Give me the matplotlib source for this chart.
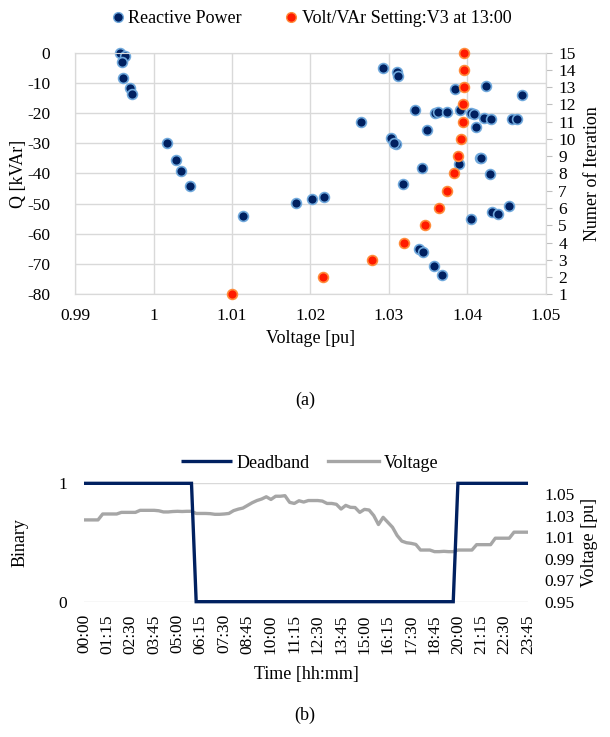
import matplotlib
matplotlib.use("Agg")
import matplotlib.pyplot as plt
from matplotlib.lines import Line2D
import numpy as np

plt.rcParams['font.family'] = ['Liberation Serif', 'DejaVu Serif']
plt.rcParams['axes.unicode_minus'] = False

# ---------------- data (a) ----------------
v_reactive = [0.99575, 0.99631, 0.99596, 0.99605, 0.99703, 0.99724, 1.00171, 1.00290,
              1.00350, 1.00469, 1.01133, 1.01819, 1.02014, 1.02167, 1.02926, 1.03109,
              1.03121, 1.03849, 1.04241, 1.04696, 1.03334, 1.02645, 1.03590, 1.03620,
              1.03738, 1.03913, 1.04041, 1.04088, 1.04207, 1.04296, 1.04569, 1.04629,
              1.04117, 1.03483, 1.03028, 1.03087, 1.03070, 1.04156, 1.04170, 1.03888,
              1.03419, 1.04284, 1.03185, 1.04526, 1.04318, 1.04395, 1.04041, 1.03390,
              1.03441, 1.03581, 1.03674]
q_reactive = [0, -1.1, -3.0, -8.3, -11.6, -13.8, -29.9, -35.6, -39.3, -44.1, -54.1, -49.8,
              -48.5, -47.8, -5.1, -6.4, -7.8, -11.9, -10.9, -14.1, -18.9, -22.9, -19.9,
              -19.7, -19.8, -18.9, -20.0, -20.3, -21.5, -22.1, -22.0, -22.0, -24.5, -25.6,
              -28.1, -30.1, -30.0, -34.8, -34.9, -37.0, -38.3, -40.2, -43.6, -50.8, -52.6,
              -53.3, -55.0, -65.1, -66.1, -70.6, -73.5]
v_setting = [1.01001, 1.02163, 1.02780, 1.03189, 1.03457, 1.03636, 1.03747, 1.03828,
             1.03884, 1.03917, 1.03939, 1.03948, 1.03955, 1.03955, 1.03955]
iteration = list(range(1, 16))
x_ticks_a = [0.99, 1.00, 1.01, 1.02, 1.03, 1.04, 1.05]
x_ticklabels_a = ['0.99', '1', '1.01', '1.02', '1.03', '1.04', '1.05']
q_ticks = [0, -10, -20, -30, -40, -50, -60, -70, -80]

# ---------------- data (b) ----------------
deadband = [1] * 24 + [0] * 56 + [1] * 16
voltage = [1.026, 1.026, 1.026, 1.026, 1.0315, 1.0315, 1.0315, 1.0315,
           1.033, 1.033, 1.033, 1.033, 1.0349, 1.0349, 1.0349, 1.0349,
           1.0345, 1.0334, 1.0334, 1.0338, 1.034, 1.0338, 1.034, 1.034,
           1.032, 1.032, 1.032, 1.0318, 1.0312, 1.0312, 1.0315, 1.032,
           1.0346, 1.036, 1.037, 1.0395, 1.042, 1.044, 1.0454, 1.0475,
           1.045, 1.048, 1.048, 1.0485, 1.0423, 1.0413, 1.0438, 1.0426,
           1.044, 1.044, 1.044, 1.0435, 1.0413, 1.0413, 1.0405, 1.0361,
           1.0395, 1.0377, 1.0375, 1.033, 1.0358, 1.0352, 1.030, 1.0217,
           1.0284, 1.0238, 1.0192, 1.0115, 1.0063, 1.0048, 1.0042, 1.0032,
           0.998, 0.998, 0.998, 0.9965, 0.9965, 0.9968, 0.9965, 0.9965,
           0.998, 0.998, 0.998, 0.998, 1.003, 1.003, 1.003, 1.003,
           1.009, 1.009, 1.009, 1.009, 1.0146, 1.0146, 1.0146, 1.0146]
times = ['%02d:%02d' % (m // 60, m % 60) for m in range(0, 24 * 60, 15)]
time_tick_step = 5
v_ticks_b = [0.95, 0.97, 0.99, 1.01, 1.03, 1.05]

NAVY = '#002060'
GRID = '#d9d9d9'
FS = 12.5
LFS = 13

fig = plt.figure(figsize=(6.10, 7.37), dpi=100)

# ---------------- chart (a) ----------------
ax = fig.add_axes([0.1234, 0.6007, 0.7712, 0.3278])
ax.set_xlim(0.99, 1.05)
ax.set_ylim(-80, 0)
ax.set_xticks(x_ticks_a)
ax.set_xticklabels(x_ticklabels_a)
ax.set_yticks(q_ticks)
ax.grid(True, color=GRID, linewidth=1.0)
ax.set_axisbelow(True)
for s in ax.spines.values():
    s.set_color(GRID)
ax.tick_params(axis='both', length=0, labelsize=FS)
ax.tick_params(axis='y', pad=18)
ax.tick_params(axis='x', pad=10)
ax.set_xlabel('Voltage [pu]', fontsize=LFS, labelpad=4)
ax.set_ylabel('Q [kVAr]', fontsize=LFS)
ax.yaxis.set_label_coords(-0.103, 0.5)
ax.scatter(v_reactive, q_reactive, s=50, c=NAVY, edgecolors='#6fa8dc',
           linewidths=1.2, zorder=3, clip_on=False)

ax2 = ax.twinx()
ax2.set_ylim(1, 15)
ax2.set_yticks(iteration)
for s in ax2.spines.values():
    s.set_color(GRID)
ax2.tick_params(axis='y', length=4, color='#bfbfbf', labelsize=FS, pad=5)
ax2.set_ylabel('Numer of Iteration', fontsize=LFS, labelpad=6)
ax2.scatter(v_setting, iteration, s=50, c='#ff1a00', edgecolors='#ff8c3a',
            linewidths=1.2, zorder=4, clip_on=False)

h1 = Line2D([], [], linestyle='none', marker='o', markersize=7,
            markerfacecolor=NAVY, markeredgecolor='#6fa8dc')
h2 = Line2D([], [], linestyle='none', marker='o', markersize=7,
            markerfacecolor='#ff1a00', markeredgecolor='#ff8c3a')
fig.legend([h1, h2], ['Reactive Power', 'Volt/VAr Setting:V3 at 13:00'],
           loc='center', bbox_to_anchor=(0.508, 0.975), ncol=2, frameon=False,
           fontsize=LFS, handletextpad=0.1, columnspacing=2.2, handlelength=1.0)

fig.text(0.5, 1 - 400 / 737, '(a)', ha='center', va='center', fontsize=LFS)

# ---------------- chart (b) ----------------
bx = fig.add_axes([0.1377, 0.1836, 0.7279, 0.1606])
idx = np.arange(len(times))
bx.set_xlim(0, len(times) - 1)
bx.set_ylim(0, 1)
bx.set_yticks([0, 1])
bx.set_xticks(idx[::time_tick_step])
bx.set_xticklabels(times[::time_tick_step], rotation=90)
bx.grid(True, axis='y', color=GRID, linewidth=1.0)
bx.set_axisbelow(True)
for s in bx.spines.values():
    s.set_visible(False)
bx.tick_params(axis='both', length=0, labelsize=FS)
bx.tick_params(axis='y', pad=12)
bx.tick_params(axis='x', pad=9)
bx.set_xlabel('Time [hh:mm]', fontsize=LFS, labelpad=9)
bx.set_ylabel('Binary', fontsize=LFS)
bx.yaxis.set_label_coords(-0.124, 0.5)
l1, = bx.plot(idx, deadband, color=NAVY, linewidth=2.4, zorder=3,
              solid_capstyle='butt', solid_joinstyle='miter', clip_on=False)

bx2 = bx.twinx()
bx2.set_ylim(0.95, 1.06)
bx2.set_yticks(v_ticks_b)
bx2.set_yticklabels(['%.2f' % v for v in v_ticks_b])
for s in bx2.spines.values():
    s.set_visible(False)
bx2.tick_params(axis='y', length=0, labelsize=FS, pad=12)
bx2.set_ylabel('Voltage [pu]', fontsize=LFS, labelpad=4)
l2, = bx2.plot(idx, voltage, color='#a6a6a6', linewidth=2.4, zorder=2)
bx.set_zorder(bx2.get_zorder() + 1)
bx.patch.set_visible(False)

fig.legend([l1, l2], ['Deadband', 'Voltage'], loc='center',
           bbox_to_anchor=(0.508, 1 - 463 / 737), ncol=2, frameon=False,
           fontsize=LFS, handlelength=2.8, handletextpad=0.3, columnspacing=1.0)

fig.text(0.5, 1 - 715 / 737, '(b)', ha='center', va='center', fontsize=LFS)

fig.savefig('out.png', dpi=100)
